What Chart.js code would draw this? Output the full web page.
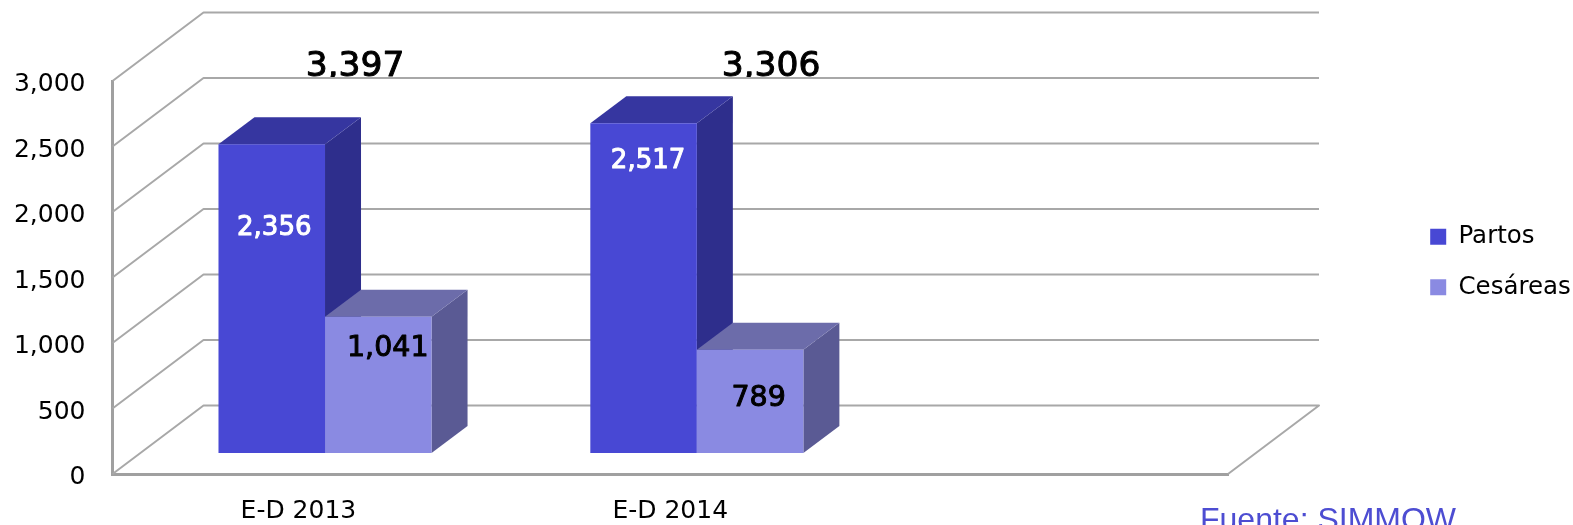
<!DOCTYPE html>
<html><head><meta charset="utf-8">
<style>html,body{margin:0;padding:0;background:#fff;overflow:hidden}canvas{display:block;filter:blur(0.45px)}</style>
<script src="https://cdn.jsdelivr.net/npm/chart.js@4"></script></head>
<body><canvas id="c" width="1573" height="525"></canvas>
<script>
const categories = ['E-D 2013', 'E-D 2014', ''];
const partos = [2356, 2517, null];
const cesareas = [1041, 789, null];
const totals = [3397, 3306];
const tickStep = 500;
const sourceText = 'Fuente: SIMMOW';

const FONT = '"DejaVu Sans"';
const WALL = {dx: 91, dy: 68.5};
const BAR_SHIFT = {dx: 26.6, dy: 21};
const BAR_DEPTH = {dx: 36, dy: 27};
const GRID = '#a8a8a8';
const faces = [
  {front: '#4848d4', top: '#3636a0', side: '#2e2e8c', label: '#ffffff', size: 26, nudge: [[2.5, -70.5], [4.5, -126.5]]},
  {front: '#8a8ae2', top: '#6c6caa', side: '#5a5a94', label: '#000000', size: 28.5, nudge: [[9.5, -36.5], [8.5, -2.5]]}
];
const totalAnchors = [56.6, 100.8];
const fmt = v => v.toLocaleString('en-US');

function heavyText(ctx, text, x, y, color) {
  ctx.fillStyle = color; ctx.strokeStyle = color; ctx.lineWidth = 1; ctx.lineJoin = 'round';
  ctx.fillText(text, x, y);
  ctx.strokeText(text, x, y);
}

function drawBars(chart, i) {
  const {ctx} = chart, f = faces[i], values = chart.data.datasets[i].data, meta = chart.getDatasetMeta(i);
  ctx.save();
  ctx.translate(BAR_SHIFT.dx, -BAR_SHIFT.dy);
  meta.data.forEach((el, j) => {
    if (values[j] == null) return;
    const L = el.x - el.width / 2, R = el.x + el.width / 2, T = el.y, B = el.base;
    const dx = BAR_DEPTH.dx, dy = BAR_DEPTH.dy;
    ctx.fillStyle = f.side;
    ctx.beginPath();
    ctx.moveTo(R, T); ctx.lineTo(R + dx, T - dy); ctx.lineTo(R + dx, B - dy); ctx.lineTo(R, B);
    ctx.closePath(); ctx.fill();
    ctx.fillStyle = f.top;
    ctx.beginPath();
    ctx.moveTo(L, T); ctx.lineTo(L + dx, T - dy); ctx.lineTo(R + dx, T - dy); ctx.lineTo(R, T);
    ctx.closePath(); ctx.fill();
  });
  meta.controller.draw();
  ctx.restore();
}

const scene = {
  id: 'scene',
  afterLayout(chart) {
    const l = chart.legend;
    l.left = 1404.2; l.right = 1573; l.top = 198.5; l.bottom = 525;
  },
  beforeDatasetsDraw(chart) {
    const {ctx, chartArea: a, scales: {y}} = chart;
    ctx.save();
    ctx.strokeStyle = GRID; ctx.lineWidth = 2; ctx.lineJoin = 'round';
    y.ticks.forEach(t => {
      const p = y.getPixelForValue(t.value);
      ctx.beginPath();
      ctx.moveTo(a.left, p);
      ctx.lineTo(a.left + WALL.dx, p - WALL.dy);
      ctx.lineTo(a.right + WALL.dx, p - WALL.dy);
      if (t.value === 0) ctx.lineTo(a.right, p);
      ctx.stroke();
    });
    ctx.restore();
  },
  // Chart.js paints datasets last-to-first; the left column must go down first.
  beforeDatasetDraw(chart, args) {
    if (args.index === 0) { drawBars(chart, 0); drawBars(chart, 1); }
    return false;
  },
  afterDatasetsDraw(chart) {
    const {ctx, scales: {x}} = chart;
    ctx.save();
    ctx.textAlign = 'center'; ctx.textBaseline = 'middle';
    chart.data.datasets.forEach((ds, i) => {
      const f = faces[i];
      ctx.font = `${f.size}px ${FONT}`;
      chart.getDatasetMeta(i).data.forEach((el, j) => {
        if (ds.data[j] == null) return;
        const cx = el.x + BAR_SHIFT.dx + f.nudge[j][0];
        const cy = (el.y + el.base) / 2 - BAR_SHIFT.dy + f.nudge[j][1];
        heavyText(ctx, fmt(ds.data[j]), cx, cy, f.label);
      });
    });
    // totals: the source crops their descenders at the gridline
    ctx.beginPath(); ctx.rect(0, 0, 1573, 77); ctx.clip();
    ctx.font = `34.5px ${FONT}`;
    ctx.textBaseline = 'alphabetic';
    totals.forEach((v, j) => heavyText(ctx, fmt(v), x.getPixelForTick(j) + totalAnchors[j], 76, '#000'));
    ctx.restore();
    ctx.save();
    ctx.font = '32px "Liberation Sans"';
    ctx.fillStyle = '#4d4dd2'; ctx.textAlign = 'left'; ctx.textBaseline = 'alphabetic';
    ctx.fillText(sourceText, 1200, 530);
    ctx.restore();
  }
};

new Chart(document.getElementById('c'), {
  type: 'bar',
  data: {
    labels: categories,
    datasets: [
      {label: 'Partos', data: partos, backgroundColor: faces[0].front, clip: false},
      {label: 'Cesáreas', data: cesareas, backgroundColor: faces[1].front, clip: false}
    ]
  },
  plugins: [scene],
  options: {
    responsive: false,
    animation: false,
    layout: {padding: {top: 81, right: 345, left: 0, bottom: 0}},
    datasets: {bar: {categoryPercentage: 0.573, barPercentage: 1}},
    plugins: {
      tooltip: {enabled: false},
      legend: {
        position: 'chartArea',
        align: 'start',
        labels: {boxWidth: 16, boxHeight: 16, padding: 26, color: '#000', font: {family: FONT, size: 24.5}}
      }
    },
    scales: {
      x: {
        afterFit(s) { s.height = 51; },
        grid: {display: false, drawTicks: false},
        border: {display: true, color: '#a0a0a0', width: 3},
        ticks: {color: '#000', font: {family: FONT, size: 25}, padding: 22, maxRotation: 0, autoSkip: false}
      },
      y: {
        min: 0, max: 3000,
        afterFit(s) { s.width = 112.5; },
        grid: {display: false, drawTicks: false},
        border: {display: true, color: '#a0a0a0', width: 3},
        ticks: {stepSize: tickStep, color: '#000', font: {family: FONT, size: 25}, padding: 27, labelOffset: 3.5, callback: fmt}
      }
    }
  }
});
</script></body></html>
